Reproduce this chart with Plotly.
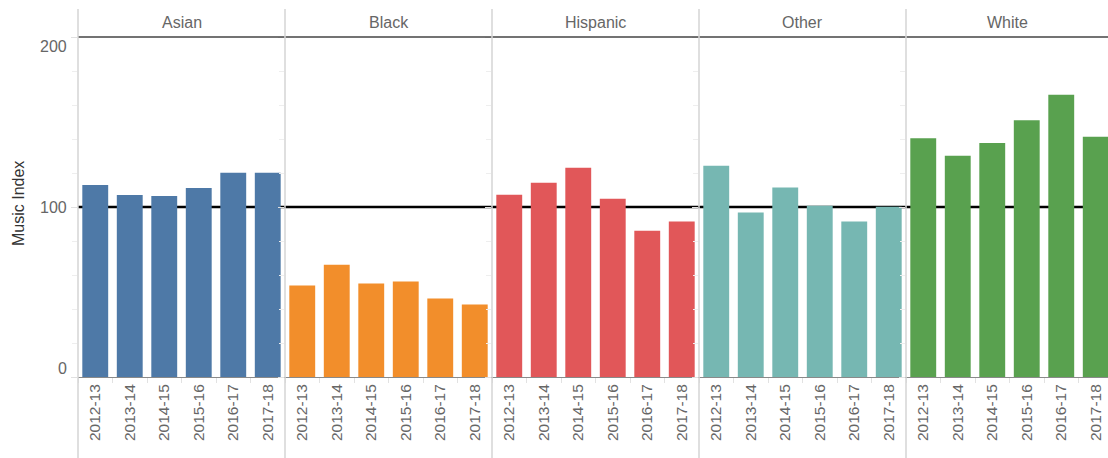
import plotly.graph_objects as go
from plotly.subplots import make_subplots

groups = ["Asian", "Black", "Hispanic", "Other", "White"]
seasons = ["2012-13", "2013-14", "2014-15", "2015-16", "2016-17", "2017-18"]
asian = [113, 107, 106.5, 111.2, 120.2, 120.2]
black = [53.8, 66.1, 55.0, 56.2, 46.2, 42.7]
hispanic = [107.2, 114.3, 123.1, 104.8, 86.1, 91.4]
other = [124.2, 96.7, 111.4, 100.8, 91.4, 100.2]
white = [140.5, 130.1, 137.6, 151.0, 166.0, 141.3]
colors = ["#4e79a7", "#f28e2b", "#e15759", "#76b7b2", "#59a14f"]
ytick_vals = [0, 100, 200]
ytick_text = ["0", "100", "200"]
reference_value = 100

series = [asian, black, hispanic, other, white]

W, H = 1108, 458
ml, mr, mt, mb = 78, 0, 37, 81
pw = W - ml - mr
ph = H - mt - mb
panel_px = 207

fig = make_subplots(rows=1, cols=5, shared_yaxes=True, horizontal_spacing=0)

for i, (g, vals, c) in enumerate(zip(groups, series, colors)):
    fig.add_trace(go.Bar(x=seasons, y=vals, marker=dict(color=c, line=dict(width=0)),
                         name=g, showlegend=False), row=1, col=i + 1)

for i in range(5):
    x0 = i * panel_px
    x1 = min((i + 1) * panel_px, pw)
    width_px = x1 - x0
    rng = [-0.5, -0.5 + 6 * width_px / panel_px]
    key = "xaxis" if i == 0 else f"xaxis{i+1}"
    fig.layout[key].update(
        domain=[x0 / pw, x1 / pw], type="category", range=rng,
        showline=True, linecolor="#8a8a8a", linewidth=1,
        ticks="outside", tickson="boundaries", ticklen=5, tickcolor="#e2e2e2",
        tickangle=-90, tickfont=dict(family="Arial", size=15.5, color="#666666"),
        showgrid=False, zeroline=False, fixedrange=True, automargin=False,
    )
    fig.add_annotation(text=groups[i], xref=f"x{'' if i == 0 else i+1} domain", x=0.5,
                       yref="paper", y=1, yanchor="middle", yshift=15, showarrow=False,
                       font=dict(family="Arial", size=16, color="#666666"))

fig.update_yaxes(range=[0, 200], tickvals=ytick_vals, showticklabels=False,
                 ticks="outside", ticklen=6, tickcolor="#e0e0e0",
                 minor=dict(dtick=20, ticks="outside", ticklen=5, tickcolor="#eeeeee"),
                 showgrid=False, zeroline=False, showline=False, fixedrange=True,
                 automargin=False)

shifts = {0: 9, 100: 0, 200: -9}
for v, t in zip(ytick_vals, ytick_text):
    fig.add_annotation(text=t, xref="paper", x=0, xanchor="right", xshift=-9,
                       yref="y", y=v, yanchor="middle", yshift=shifts.get(v, 0),
                       showarrow=False,
                       font=dict(family="Arial", size=16, color="#666666"))

fig.add_annotation(text="Music Index", xref="paper", x=(18.5 - ml) / pw, xanchor="center",
                   yref="paper", y=(mt + ph - 203.5) / ph, yanchor="middle",
                   textangle=-90, showarrow=False,
                   font=dict(family="Arial", size=16, color="#333333"))

shapes = []
shapes.append(dict(type="line", xref="paper", x0=0, x1=1, yref="y", y0=reference_value,
                   y1=reference_value, line=dict(color="#000000", width=2.5), layer="below"))
shapes.append(dict(type="line", xref="paper", x0=0, x1=1, yref="paper", y0=1, y1=1,
                   line=dict(color="#444444", width=1.5)))
ytop = (H - mb - 9) / ph
ybot = (H - mb - H) / ph
for i in range(5):
    xp = i * panel_px / pw
    shapes.append(dict(type="line", xref="paper", x0=xp, x1=xp, yref="paper",
                       y0=ybot, y1=ytop, line=dict(color="#d4d4d4", width=1.5)))
fig.update_layout(shapes=shapes)

fig.update_layout(width=W, height=H, margin=dict(l=ml, r=mr, t=mt, b=mb, autoexpand=False),
                  plot_bgcolor="white", paper_bgcolor="white", bargap=0.25,
                  font=dict(family="Arial"))

fig.write_html("out.html", config={"displayModeBar": False},
               post_script="document.body.style.margin='0';")
